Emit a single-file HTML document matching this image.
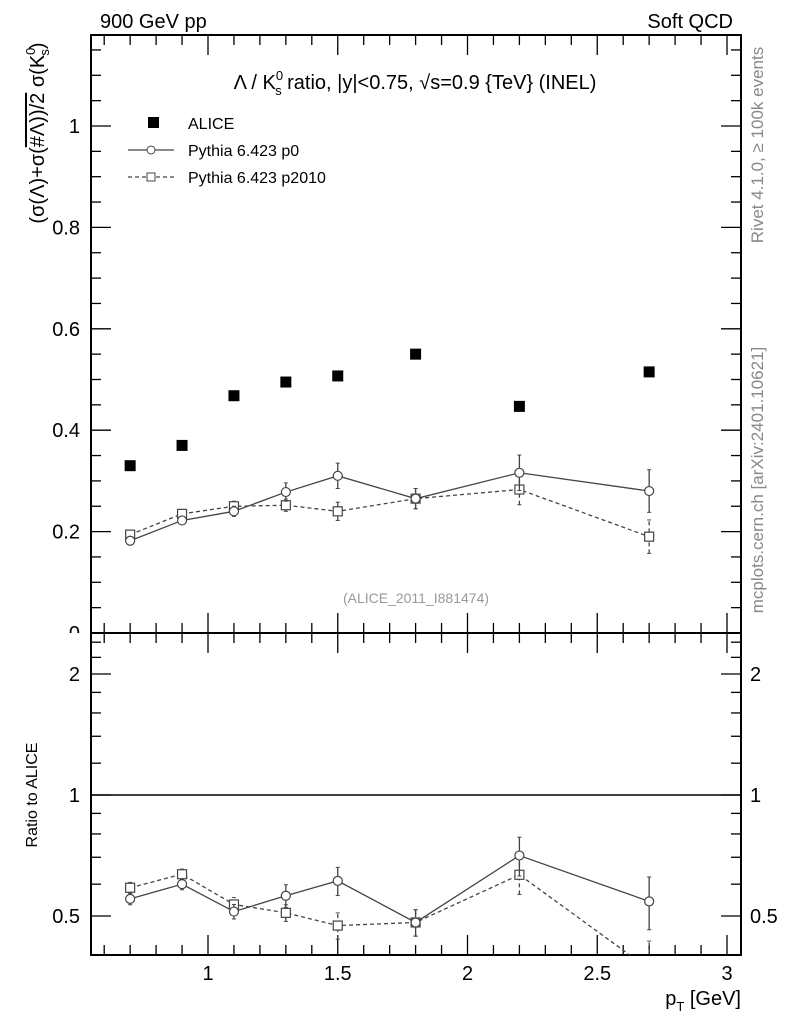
<!DOCTYPE html>
<html><head><meta charset="utf-8"><style>
body{margin:0;background:#fff;}
svg{display:block;font-family:"Liberation Sans",sans-serif;}
</style></head><body>
<svg id="c" width="786" height="1024" viewBox="0 0 786 1024" xmlns="http://www.w3.org/2000/svg">
<text x="100" y="28" font-size="20">900 GeV pp</text>
<text x="733" y="28" font-size="20" text-anchor="end">Soft QCD</text>
<text x="415" y="89" font-size="20" text-anchor="middle">Λ / K<tspan font-size="13" dy="-9">0</tspan><tspan font-size="13" dx="-8" dy="15">s</tspan><tspan dy="-6"> ratio, |y|&lt;0.75, √s=0.9 {TeV} (INEL)</tspan></text>
<g transform="translate(44,133) rotate(-90)">
<text x="0" y="0" font-size="20" text-anchor="middle">(σ(Λ)+σ(<tspan text-decoration="overline">#Λ))/2</tspan> σ(K<tspan font-size="13" dy="-9">0</tspan><tspan font-size="13" dx="-8" dy="14">s</tspan><tspan dy="-5">)</tspan></text>
</g>
<text transform="translate(37,795) rotate(-90)" font-size="16" text-anchor="middle">Ratio to ALICE</text>
<text x="741" y="1005" font-size="20" text-anchor="end">p<tspan font-size="13" dy="6">T</tspan><tspan dy="-6"> [GeV]</tspan></text>
<text transform="translate(763,145) rotate(-90)" font-size="17" fill="#888" text-anchor="middle">Rivet 4.1.0, ≥ 100k events</text>
<text transform="translate(763,480) rotate(-90)" font-size="17" fill="#888" text-anchor="middle">mcplots.cern.ch [arXiv:2401.10621]</text>
<text x="416" y="603" font-size="14" fill="#999" text-anchor="middle">(ALICE_2011_I881474)</text>
<g id="legend">
<rect x="148" y="117" width="11" height="11" fill="#000"/>
<text x="188" y="129" font-size="16">ALICE</text>
<line x1="128" y1="150" x2="174" y2="150" stroke="#444" stroke-width="1.3"/>
<circle cx="151" cy="150" r="4" fill="#fff" stroke="#444"/>
<text x="188" y="156" font-size="16">Pythia 6.423 p0</text>
<line x1="128" y1="177" x2="174" y2="177" stroke="#444" stroke-width="1.3" stroke-dasharray="4,3"/>
<rect x="147" y="173" width="8" height="8" fill="#fff" stroke="#444"/>
<text x="188" y="183" font-size="16">Pythia 6.423 p2010</text>
</g>
</svg>
<script>
const pt=[0.7,0.9,1.1,1.3,1.5,1.8,2.2,2.7];
const alice=[0.33,0.37,0.468,0.495,0.507,0.55,0.447,0.515];
const p0=[0.182,0.222,0.24,0.278,0.31,0.265,0.316,0.28];
const p0err=[0.006,0.007,0.01,0.018,0.025,0.02,0.035,0.042];
const p2010=[0.194,0.235,0.25,0.252,0.24,0.265,0.283,0.19];
const p2010err=[0.006,0.007,0.01,0.012,0.018,0.02,0.03,0.033];
const mainTicks=[0,0.2,0.4,0.6,0.8,1];
const ratioTicks=[0.5,1,2];
const xTicks=[1,1.5,2,2.5,3];

const NS="http://www.w3.org/2000/svg";
const svg=document.getElementById('c');
const L=91,R=741,T=35,M=633,B=955;
const X=v=>208+(v-1)*259.5;
const Y=v=>633-v*507;
const RY=v=>795-Math.log2(v)*121;
function mk(tag,a,parent){const e=document.createElementNS(NS,tag);for(const k in a)e.setAttribute(k,a[k]);(parent||svg).appendChild(e);return e;}
const defs=mk('defs',{});
const c1=mk('clipPath',{id:'cm'},defs);mk('rect',{x:L,y:T,width:R-L,height:M-T},c1);
const c2=mk('clipPath',{id:'cr'},defs);mk('rect',{x:L,y:M,width:R-L,height:B-M},c2);
let f=mk('rect',{x:L,y:T,width:R-L,height:M-T,fill:'none',stroke:'#000','stroke-width':2});


f=mk('rect',{x:L,y:M,width:R-L,height:B-M,fill:'none',stroke:'#000','stroke-width':2});


const ax=mk('g',{stroke:'#000','stroke-width':1.3});


for(let i=6;i<=30;i++){const v=i/10;const x=X(v);if(x<L||x>R)continue;const maj=(i%5===0);const len=maj?20:10;
 for(const [y0,d] of [[T,1],[M,-1],[M,1],[B,-1]]) mk('line',{x1:x,x2:x,y1:y0,y2:y0+d*len},ax);}
xTicks.forEach(v=>{const t=mk('text',{x:X(v),y:980,'font-size':20,'text-anchor':'middle'});t.textContent=v;
 
 });
for(let i=0;i<=23;i++){const v=i*0.05;const y=Y(v);if(y<T)continue;const maj=(i%4===0);const len=maj?20:10;
 mk('line',{x1:L,x2:L+len,y1:y,y2:y},ax);mk('line',{x1:R,x2:R-len,y1:y,y2:y},ax);}
mainTicks.forEach(v=>{if(v===0)return;const t=mk('text',{x:80,y:Y(v)+7,'font-size':20,'text-anchor':'end'});t.textContent=v;
 
 });
[0.4,0.5,0.6,0.7,0.8,0.9,1,1.2,1.4,1.6,1.8,2,2.2,2.4].forEach(v=>{const y=RY(v);const maj=ratioTicks.includes(v);const len=maj?20:10;
 mk('line',{x1:L,x2:L+len,y1:y,y2:y},ax);mk('line',{x1:R,x2:R-len,y1:y,y2:y},ax);});
ratioTicks.forEach(v=>{let t=mk('text',{x:80,y:RY(v)+7,'font-size':20,'text-anchor':'end'});t.textContent=v;
 
 
 t=mk('text',{x:750,y:RY(v)+7,'font-size':20});t.textContent=v;
 
 });
const ref=mk('line',{x1:L,x2:R,y1:RY(1),y2:RY(1),stroke:'#000','stroke-width':1.5});


const gm=mk('g',{'clip-path':'url(#cm)'});
alice.forEach((v,i)=>{const r=mk('rect',{x:X(pt[i])-5.5,y:Y(v)-5.5,width:11,height:11,fill:'#000'},gm);
 
 });
function series(g,vals,errs,Yf,dash,shape,name){
 const pl=mk('polyline',{points:vals.map((v,i)=>X(pt[i])+','+Yf(v)).join(' '),fill:'none',stroke:'#444','stroke-width':1.3,'stroke-dasharray':dash},g);
 
 
 vals.forEach((v,i)=>{const x=X(pt[i]),y=Yf(v);
  if(errs){const y1=Yf(errs[i][0]),y2=Yf(errs[i][1]);
   const e=mk('line',{x1:x,x2:x,y1:y1,y2:y2,stroke:'#444','stroke-width':1.3,'stroke-dasharray':dash},g);
   
   
   mk('line',{x1:x-2,x2:x+2,y1:y1,y2:y1,stroke:'#444'},g);mk('line',{x1:x-2,x2:x+2,y1:y2,y2:y2,stroke:'#444'},g);}
  let m;
  if(shape==='c')m=mk('circle',{cx:x,cy:y,r:4.5,fill:'#fff',stroke:'#444','stroke-width':1.2},g);
  else m=mk('rect',{x:x-4.5,y:y-4.5,width:9,height:9,fill:'#fff',stroke:'#444','stroke-width':1.2},g);
  
  });
}
series(gm,p2010,p2010.map((v,i)=>[v-p2010err[i],v+p2010err[i]]),Y,'4,3','s','p2010');
series(gm,p0,p0.map((v,i)=>[v-p0err[i],v+p0err[i]]),Y,'','c','p0');
const gr=mk('g',{'clip-path':'url(#cr)'});
const r2010=p2010.map((v,i)=>v/alice[i]), r0=p0.map((v,i)=>v/alice[i]);
series(gr,r2010,p2010.map((v,i)=>[(v-p2010err[i])/alice[i],(v+p2010err[i])/alice[i]]),RY,'4,3','s','ratio-p2010');
series(gr,r0,p0.map((v,i)=>[(v-p0err[i])/alice[i],(v+p0err[i])/alice[i]]),RY,'','c','ratio-p0');
const zc=mk('clipPath',{id:'cz'},defs);mk('rect',{x:0,y:0,width:90,height:633},zc);
const z=mk('text',{x:80,y:Y(0)+7,'font-size':20,'text-anchor':'end','clip-path':'url(#cz)'});z.textContent='0';


</script>
</body></html>
